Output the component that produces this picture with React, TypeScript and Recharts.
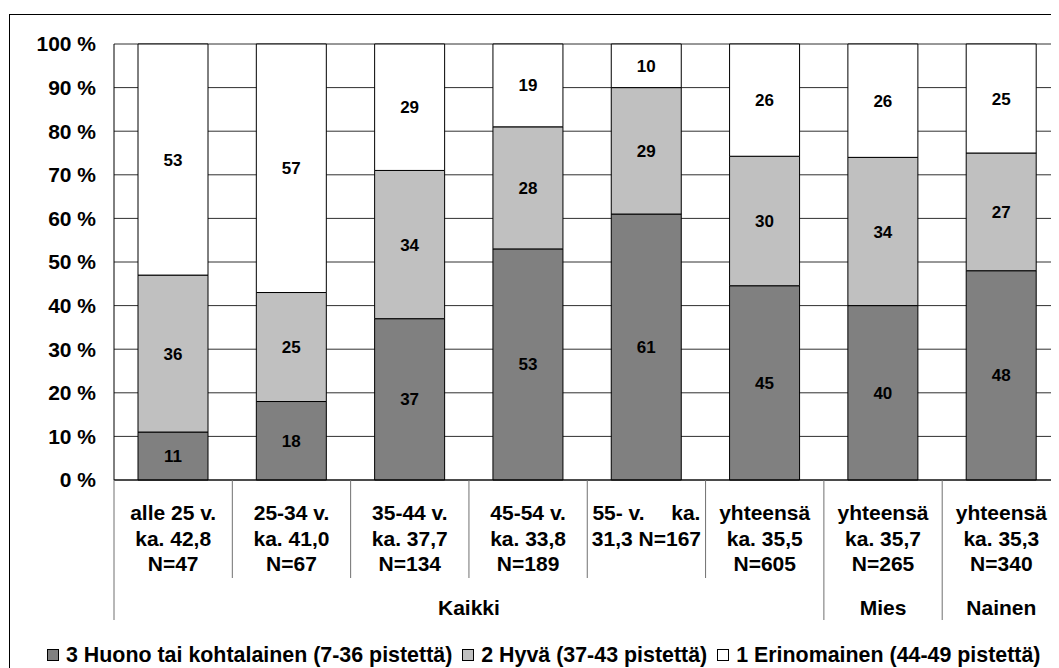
import { Bar, BarChart, CartesianGrid, LabelList, XAxis, YAxis } from "recharts";

// "|" marks a justified line: left part to the left edge, right part to the right edge
const categories = [
  ["alle 25 v.", "ka. 42,8", "N=47"],
  ["25-34 v.", "ka. 41,0", "N=67"],
  ["35-44 v.", "ka. 37,7", "N=134"],
  ["45-54 v.", "ka. 33,8", "N=189"],
  ["55- v.|ka.", "31,3 N=167"],
  ["yhteensä", "ka. 35,5", "N=605"],
  ["yhteensä", "ka. 35,7", "N=265"],
  ["yhteensä", "ka. 35,3", "N=340"],
];

const groups = [
  { label: "Kaikki", span: 6 },
  { label: "Mies", span: 1 },
  { label: "Nainen", span: 1 },
];

const huono = [11, 18, 37, 53, 61, 45, 40, 48];
const hyva = [36, 25, 34, 28, 29, 30, 34, 27];
const erinomainen = [53, 57, 29, 19, 10, 26, 26, 25];

const yTicks = [0, 10, 20, 30, 40, 50, 60, 70, 80, 90, 100];

const series = [
  { key: "huono", name: "3 Huono tai kohtalainen (7-36 pistettä)", color: "#808080" },
  { key: "hyva", name: "2 Hyvä (37-43 pistettä)", color: "#c0c0c0" },
  { key: "erinomainen", name: "1 Erinomainen (44-49 pistettä)", color: "#ffffff" },
];

const data = categories.map((lines, i) => ({
  name: lines.join(" ").replace("|", " "),
  huono: huono[i],
  hyva: hyva[i],
  erinomainen: erinomainen[i],
}));

const W = 1070;
const H = 660;
const LEFT = 106;
const RIGHT = 17.5;
const BAND = (W - LEFT - RIGHT) / categories.length;
const FS = 21;

// index of first category of each group -> long separators
const groupStarts: number[] = [];
groups.reduce((acc, g) => {
  groupStarts.push(acc);
  return acc + g.span;
}, 0);

function CategoryTick(props: any) {
  const { x, y, index } = props;
  const lines: string[] = categories[index];
  const left = x - BAND / 2;
  const gi = groupStarts.indexOf(index);
  const isLast = index === categories.length - 1;
  const textProps = { fontSize: FS, fontWeight: "bold", fill: "#000" };
  return (
    <g>
      <line x1={left} x2={left} y1={y} y2={y + (gi >= 0 ? 140 : 98)} stroke="#707070" />
      {isLast && (
        <line x1={x + BAND / 2} x2={x + BAND / 2} y1={y} y2={y + 140} stroke="#707070" />
      )}
      {lines.map((t, li) => {
        const ty = y + 40 + li * 25.5;
        if (t.includes("|")) {
          const [a, b] = t.split("|");
          return (
            <g key={li}>
              <text x={x - 54} y={ty} textAnchor="start" {...textProps}>
                {a}
              </text>
              <text x={x + 54} y={ty} textAnchor="end" {...textProps}>
                {b}
              </text>
            </g>
          );
        }
        return (
          <text key={li} x={x} y={ty} textAnchor="middle" {...textProps}>
            {t}
          </text>
        );
      })}
      {gi >= 0 && (
        <text
          x={x + ((groups[gi].span - 1) / 2) * BAND}
          y={y + 135}
          textAnchor="middle"
          {...textProps}
        >
          {groups[gi].label}
        </text>
      )}
    </g>
  );
}

export default function App() {
  return (
    <div
      style={{
        position: "relative",
        width: 1051,
        height: H,
        overflow: "hidden",
        fontFamily: "'Liberation Sans', Arial, sans-serif",
        fontWeight: "bold",
        background: "#fff",
      }}
    >
      <div
        style={{
          position: "absolute",
          left: 1,
          top: 6,
          width: 1200,
          height: 800,
          border: "1px solid #000",
          boxSizing: "border-box",
          pointerEvents: "none",
        }}
      />
      <div style={{ position: "absolute", left: 0, top: 0 }}>
        <BarChart
          width={W}
          height={H}
          data={data}
          stackOffset="expand"
          margin={{ top: 36, right: RIGHT, left: 0, bottom: 0 }}
          barSize={70}
        >
          <CartesianGrid vertical={false} stroke="#303030" />
          <XAxis
            dataKey="name"
            interval={0}
            height={188}
            tickLine={false}
            tickSize={0}
            tickMargin={0}
            axisLine={{ stroke: "#000" }}
            tick={<CategoryTick />}
          />
          <YAxis
            width={LEFT}
            domain={[0, 1]}
            ticks={yTicks.map((v) => v / 100)}
            tickFormatter={(v: number) => `${Math.round(v * 100)} %`}
            tickLine={false}
            tickSize={10}
            tickMargin={8}
            axisLine={{ stroke: "#000" }}
            tick={{ fill: "#000", fontSize: 21, fontWeight: "bold" }}
          />
          {series.map((s) => (
            <Bar
              key={s.key}
              dataKey={s.key}
              name={s.name}
              stackId="a"
              fill={s.color}
              stroke="#000"
              strokeWidth={1}
              isAnimationActive={false}
            >
              <LabelList
                dataKey={s.key}
                position="center"
                fill="#000"
                fontSize={17}
                fontWeight="bold"
              />
            </Bar>
          ))}
        </BarChart>
      </div>
      <div
        style={{
          position: "absolute",
          left: 39,
          top: 635,
          display: "flex",
          alignItems: "center",
          whiteSpace: "nowrap",
          fontSize: 21.4,
          lineHeight: "24px",
          color: "#000",
        }}
      >
        {series.map((s, i) => (
          <div
            key={s.key}
            style={{ display: "flex", alignItems: "center", marginLeft: i === 0 ? 0 : 10 }}
          >
            <span
              style={{
                display: "inline-block",
                width: 12,
                height: 12,
                background: s.color,
                border: "1px solid #000",
                boxSizing: "border-box",
                marginRight: 7,
              }}
            />
            <span>{s.name}</span>
          </div>
        ))}
      </div>
    </div>
  );
}
